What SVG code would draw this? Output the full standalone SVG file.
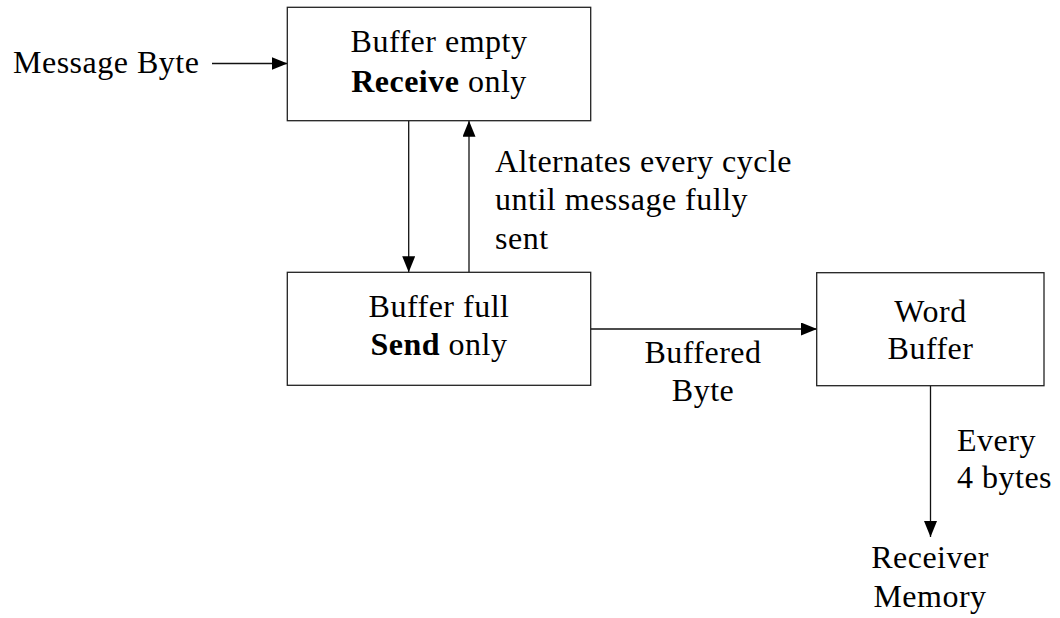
<svg xmlns="http://www.w3.org/2000/svg" width="1060" height="618" viewBox="0 0 1060 618">
  <style>
    text { font-family: "Liberation Serif", "DejaVu Serif", serif; font-size: 32px; letter-spacing: 0.5px; fill: #000; }
    .c { text-anchor: middle; }
    .b { font-weight: bold; }
    .box { fill: #fff; stroke: #222; stroke-width: 1.3; }
    .edge { fill: none; stroke: #111; stroke-width: 1.3; }
  </style>
  <defs>
    <marker id="arrow" markerUnits="userSpaceOnUse" markerWidth="17" markerHeight="14" refX="16" refY="6.5" orient="auto">
      <path d="M0,0 L16,6.5 L0,13 Z" fill="#000"/>
    </marker>
  </defs>
  <rect width="1060" height="618" fill="#fff"/>

  <g id="connectors">
    <line class="edge" x1="212" y1="63.5" x2="287.5" y2="63.5" marker-end="url(#arrow)"/>
    <line class="edge" x1="408.7" y1="120.7" x2="408.7" y2="272.3" marker-end="url(#arrow)"/>
    <line class="edge" x1="469" y1="272.3" x2="469" y2="120.7" marker-end="url(#arrow)"/>
    <line class="edge" x1="590.7" y1="329" x2="817" y2="329" marker-end="url(#arrow)"/>
    <line class="edge" x1="930.5" y1="385.7" x2="930.5" y2="537" marker-end="url(#arrow)"/>
  </g>

  <g id="input-label">
    <text x="13" y="72.5">Message Byte</text>
  </g>

  <g id="buffer-empty">
    <rect class="box" x="287.3" y="7.3" width="303.4" height="113.4"/>
    <text class="c" x="439" y="52.3">Buffer empty</text>
    <text class="c" x="439" y="91.7"><tspan class="b">Receive</tspan> only</text>
  </g>

  <g id="alternation-label">
    <text x="495" y="171.7">Alternates every cycle</text>
    <text x="495" y="210">until message fully</text>
    <text x="495" y="248.5">sent</text>
  </g>

  <g id="buffer-full">
    <rect class="box" x="287.3" y="272.3" width="303.4" height="113"/>
    <text class="c" x="439" y="317.3">Buffer full</text>
    <text class="c" x="439" y="355"><tspan class="b">Send</tspan> only</text>
  </g>

  <g id="buffered-byte-label">
    <text class="c" x="703" y="363.3">Buffered</text>
    <text class="c" x="703" y="400.7">Byte</text>
  </g>

  <g id="word-buffer">
    <rect class="box" x="816.7" y="272.7" width="227.3" height="113"/>
    <text class="c" x="930.5" y="321.7">Word</text>
    <text class="c" x="930.5" y="359.3">Buffer</text>
  </g>

  <g id="every-label">
    <text x="957" y="450.7">Every</text>
    <text x="957" y="488">4 bytes</text>
  </g>

  <g id="receiver-memory">
    <text class="c" x="930" y="568">Receiver</text>
    <text class="c" x="930" y="606.7">Memory</text>
  </g>
</svg>
